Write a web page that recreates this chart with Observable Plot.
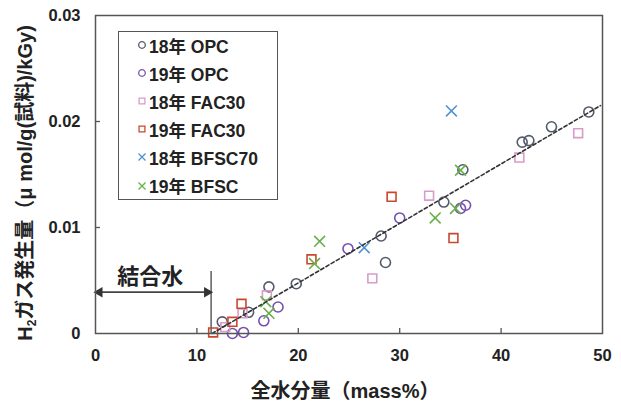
<!DOCTYPE html>
<html><head><meta charset="utf-8">
<script src="https://cdn.jsdelivr.net/npm/d3@7"></script>
<script src="https://cdn.jsdelivr.net/npm/@observablehq/plot@0.6"></script>
<style>
body{margin:0;background:#fff;font-family:"Liberation Sans","Noto Sans CJK JP",sans-serif;}
#wrap{position:relative;width:621px;height:407px;overflow:hidden;}
#legend{position:absolute;left:118px;top:31px;width:158px;height:167px;border:1.5px solid #555;background:#fff;}
.row{position:absolute;left:0;height:24px;display:flex;align-items:center;font-size:17.5px;font-weight:bold;color:#222;white-space:nowrap;}
.row svg{margin-left:18px;margin-right:2px;}
</style></head><body><div id="wrap"><div id="legend"></div></div>
<script>
// ---- data ----
const series = ["18年 OPC","19年 OPC","18年 FAC30","19年 FAC30","18年 BFSC70","19年 BFSC"];
const colors = ["#535a6d","#7650b0","#d89ccb","#c8482f","#4f93d0","#67b048"];
const symbols = ["circle","circle","square","square","times","times"];

const opc18X = [48.65,44.97,42.08,42.74,36.23,34.35,28.17,28.6,19.8,17.1,15.1,12.5];
const opc18Y = [0.0209,0.0195,0.01805,0.0182,0.01545,0.0124,0.0092,0.0067,0.0047,0.0044,0.0020,0.0011];
const opc19X = [36.5,36.0,30.0,24.9,18.0,16.6,14.6,13.5];
const opc19Y = [0.0121,0.0118,0.0109,0.0080,0.0025,0.0012,0.0001,0.0000];
const fac18X = [47.6,41.8,32.9,27.3,16.9,14.5,12.8];
const fac18Y = [0.0189,0.0166,0.0130,0.0052,0.0036,0.0019,0.0006];
const fac19X = [29.2,35.3,21.3,14.4,13.5,11.6];
const fac19Y = [0.0129,0.0090,0.0070,0.0028,0.0011,0.0001];
const bfsc18X = [35.1,26.5];
const bfsc18Y = [0.0210,0.0081];
const bfsc19X = [36.0,35.5,33.5,22.1,21.6,16.8,17.1];
const bfsc19Y = [0.0154,0.0118,0.0109,0.0087,0.0066,0.0030,0.0019];

const trendX = [11.5, 49.8];
const trendY = [0.0, 0.0215];

const xTicks = [0,10,20,30,40,50];
const yTicks = [0,0.01,0.02,0.03];
const xInner = [10,20,30,40];
const yInner = [0.01,0.02];

const boundX = 11.4;          // 結合水 boundary
const arrowY = 0.0039;
const boundTop = 0.0059;
const noteText = "結合水";
const noteX = 5.4, noteY = 0.0053;

const xTitle = "全水分量（mass%）";
// ---- build ----
const xs = [opc18X,opc19X,fac18X,fac19X,bfsc18X,bfsc19X];
const ys = [opc18Y,opc19Y,fac18Y,fac19Y,bfsc18Y,bfsc19Y];
const points = [];
series.forEach((s,i)=>xs[i].forEach((x,j)=>points.push({series:s,x,y:ys[i][j]})));
const trend = trendX.map((x,i)=>({x,y:trendY[i]}));
const arrowLine = [{x1:0,x2:boundX,y:arrowY}];
const bondLine = [{x:boundX,y1:0,y2:boundTop}];
const headL = [{x:0,y:arrowY}];
const headR = [{x:boundX,y:arrowY}];

const ff = '"Liberation Sans","Noto Sans CJK JP",sans-serif';
const chart = Plot.plot({
  width:621, height:407,
  marginLeft:95, marginRight:19, marginTop:15, marginBottom:74,
  x:{domain:[0,50], label:null},
  y:{domain:[0,0.03], label:null},
  symbol:{domain:series, range:symbols},
  color:{domain:series, range:colors},
  style:{fontFamily:ff, background:"#fff", color:"#222"},
  marks:[
    Plot.axisX(xTicks,{tickSize:0, tickPadding:16, fontSize:16.5, fontWeight:"bold", tickFormat:d=>String(d)}),
    Plot.axisY(yTicks,{tickSize:0, tickPadding:15, fontSize:16.5, fontWeight:"bold", tickFormat:d=>d===0?"0":String(d)}),
    Plot.ruleX(xInner,{x:d=>d, insetTop:313, stroke:"#555", strokeWidth:1.3}),
    Plot.ruleY(yInner,{y:d=>d, insetRight:502, stroke:"#555", strokeWidth:1.3}),
    Plot.link(arrowLine,{x1:"x1",x2:"x2",y1:"y",y2:"y",stroke:"#444",strokeWidth:1.6}),
    Plot.link(bondLine,{x1:"x",x2:"x",y1:"y1",y2:"y2",stroke:"#444",strokeWidth:1.3}),
    Plot.dot(headL,{x:"x",y:"y",symbol:"triangle2",rotate:-90,dx:4,r:5,fill:"#333",stroke:"none"}),
    Plot.dot(headR,{x:"x",y:"y",symbol:"triangle2",rotate:90,dx:-4,r:5,fill:"#333",stroke:"none"}),
    Plot.text([noteText],{x:noteX,y:noteY,text:d=>d,fontSize:22,fontWeight:"bold",fill:"#222"}),
    Plot.dot(points,{x:"x",y:"y",symbol:"series",stroke:"series",r:5,strokeWidth:1.6,fill:"none"}),
    Plot.line(trend,{x:"x",y:"y",stroke:"#333",strokeWidth:1.6,strokeDasharray:"3.5,2.5"}),
    Plot.frame({stroke:"#555",strokeWidth:1.5})
  ]
});
const wrap = document.getElementById("wrap");
wrap.insertBefore(chart, wrap.firstChild);
const svg = d3.select(chart);

// x title
svg.append("text").attr("x",345).attr("y",398).attr("text-anchor","middle")
  .attr("font-size",20).attr("font-weight","bold").attr("fill","#222").attr("font-family",ff)
  .text(xTitle);
// y title with subscript
const yt = svg.append("text").attr("transform","translate(32,183) rotate(-90)").attr("text-anchor","middle")
  .attr("font-size",20).attr("font-weight","bold").attr("fill","#222").attr("font-family",ff);
yt.append("tspan").text("H");
yt.append("tspan").attr("font-size",12).attr("dy",4).text("2");
yt.append("tspan").attr("dy",-4).text("ガス発生量（μ mol/g(試料)/kGy)");

// legend
const leg = d3.select("#legend");
series.forEach((s,i)=>{
  const row = leg.append("div").attr("class","row").style("top",(1+i*28.1)+"px");
  const sv = row.append("svg").attr("width",10).attr("height",10);
  const symType = symbols[i]==="circle"?d3.symbolCircle:symbols[i]==="square"?d3.symbolSquare:d3.symbolTimes;
  sv.append("path").attr("transform","translate(5,5)")
    .attr("d",d3.symbol(symType, Math.PI*3.3*3.3)())
    .attr("fill","none").attr("stroke",colors[i]).attr("stroke-width",1.3);
  row.append("span").text(s);
});
</script></body></html>
